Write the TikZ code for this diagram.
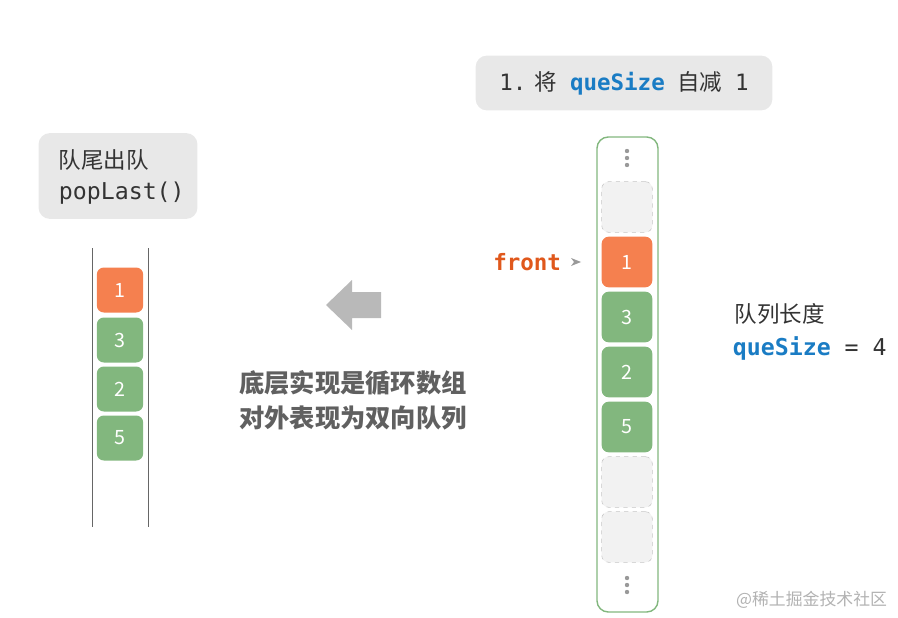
\documentclass[tikz,border=0pt]{standalone}
\usepackage{fontspec}
\setmainfont{Noto Sans CJK SC}
\setsansfont{Noto Sans CJK SC}
\setmonofont{DejaVu Sans Mono}
\usetikzlibrary{positioning}
\definecolor{cellgreen}{HTML}{82B77E}
\definecolor{cellorange}{HTML}{F5804F}
\definecolor{boxgrey}{HTML}{E8E8E8}
\definecolor{codeblue}{HTML}{1A7CC4}
\definecolor{frontred}{HTML}{E0581C}
\definecolor{txtgrey}{HTML}{333333}
\tikzset{
    cell/.style={
           rectangle,
           rounded corners=5pt,
           minimum width=33pt,
           minimum height=32pt,
           text=white,
           font=\fontsize{14}{15}\selectfont,
           },
    wide/.style={cell,minimum width=36pt,minimum height=36pt},
    note/.style={
           rectangle,
           rounded corners=8pt,
           fill=boxgrey,
           text=txtgrey,
           },
}
\begin{document}
\begin{tikzpicture}[x=0.025cm,y=-0.025cm,
  green/.style={fill=cellgreen},
  orange/.style={fill=cellorange},
  empty/.style={fill=gray!10,draw=gray!45,dashed}]
\useasboundingbox (0,0) rectangle (898,617);
% left side
\node[note,minimum width=113pt,minimum height=61pt](popbox) at (118,176){};
\node[anchor=west,text=txtgrey,font=\fontsize{16}{18}\selectfont](poptitle) at (54,160){队尾出队};
\node[anchor=west,text=txtgrey,font=\ttfamily\fontsize{16.5}{18}\selectfont](popcode) at (54,193){popLast()};
\draw[gray!80!black,thin] (92,248) -- (92,527) (148,248) -- (148,527);
\node[cell,orange](l1) at (120,290){1};
\foreach \v/\y [count=\i] in {3/340,2/389,5/438}
  \node[cell,green](l\v) at (120,\y){\v};
% middle
\fill[gray!55] (326,305) -- (352,280) -- (352,292) -- (381,292) -- (381,318) -- (352,318) -- (352,330) -- cycle;
\node[align=left,text=gray!75!black,font=\bfseries\fontsize{18}{25}\selectfont](impl) at (353,400){底层实现是循环数组\\对外表现为双向队列};
% right side
\node[note,minimum width=211pt,minimum height=39pt](stepbox) at (624,83){};
\node[text=txtgrey,font=\fontsize{16}{18}\selectfont](steptext) at (624,83){\texttt{1.}\hspace{6pt}将\hspace{9pt}\textcolor{codeblue}{\ttfamily\bfseries queSize}\hspace{9pt}自减\hspace{9pt}\texttt{1}};
\draw[cellgreen,line width=1pt,rounded corners=8pt] (597,137) rectangle (658,612);
\foreach \y in {151,158,165,578,585,592}
  \fill[gray!80] (627,\y) circle (2.2);
\node[wide,empty](e0) at (627,207){};
\node[wide,orange](r1) at (627,262){1};
\foreach \v/\y in {3/317,2/372,5/427}
  \node[wide,green](r\v) at (627,\y){\v};
\node[wide,empty](e1) at (627,482){};
\node[wide,empty](e2) at (627,537){};
\node[anchor=east,text=frontred,font=\ttfamily\bfseries\fontsize{16}{18}\selectfont](front) at (566,262){front};
\fill[gray!80] (571,258) -- (581,262) -- (571,266) -- (574,262) -- cycle;
\node[anchor=west,text=txtgrey,font=\fontsize{16}{18}\selectfont](lentitle) at (730,314){队列长度};
\node[anchor=west,text=txtgrey,font=\ttfamily\fontsize{16.5}{18}\selectfont](lenval) at (728,348){\textcolor{codeblue}{\bfseries queSize} = 4};
\node[anchor=east,text=gray!60,font=\fontsize{12}{14}\selectfont](mark) at (892,600){@稀土掘金技术社区};
\end{tikzpicture}
\end{document}
